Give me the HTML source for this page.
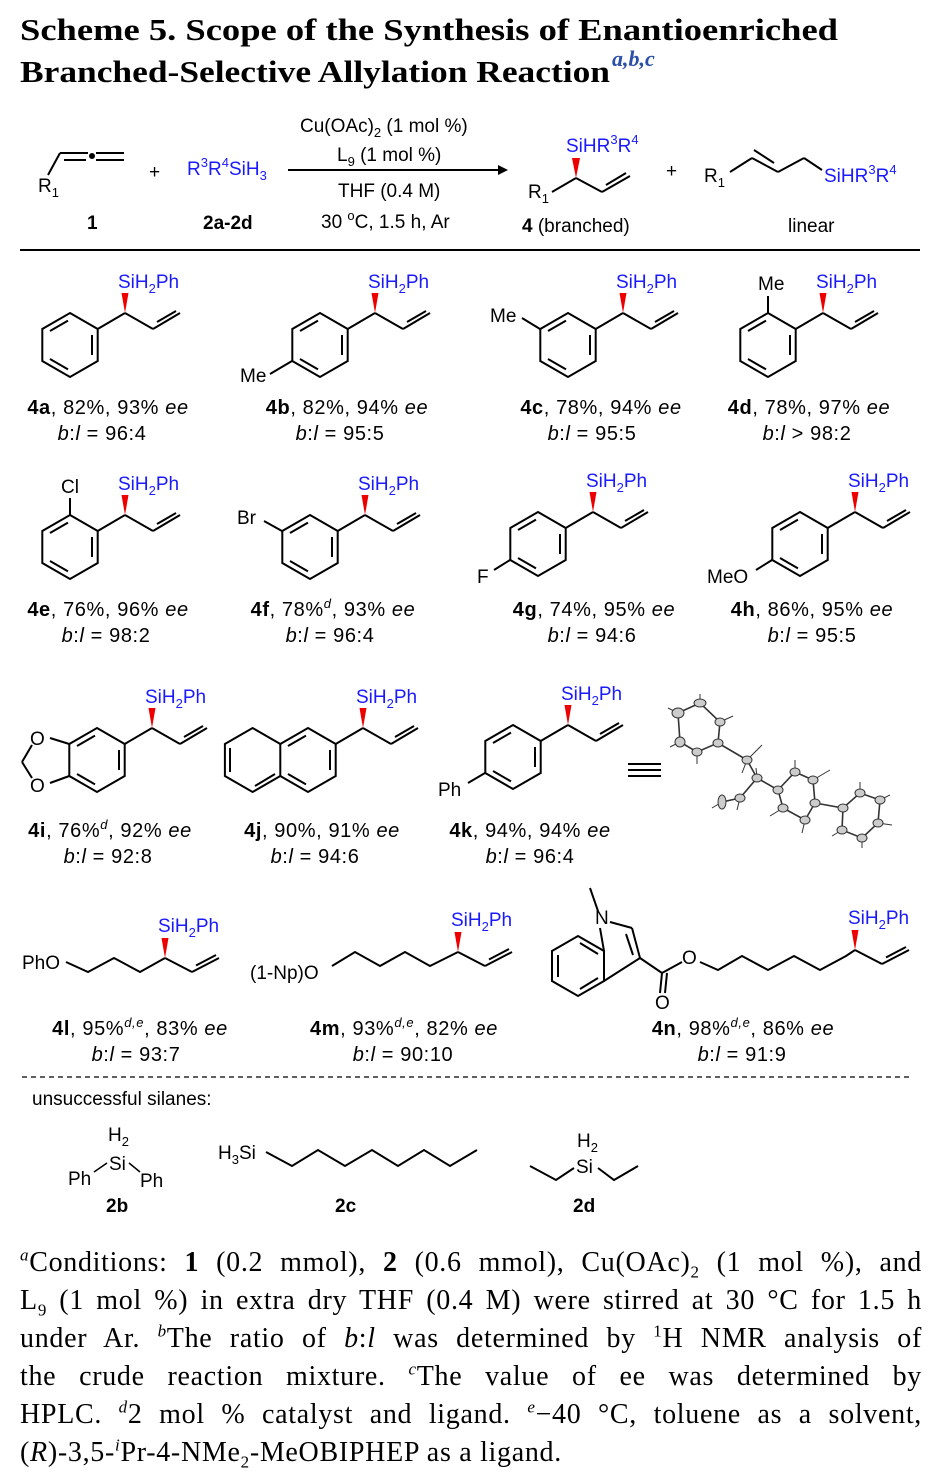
<!DOCTYPE html>
<html><head><meta charset="utf-8"><style>
html,body{margin:0;padding:0;background:#fff;}
body{width:932px;height:1478px;position:relative;overflow:hidden;}
svg{position:absolute;left:0;top:0;}
.t{font-family:"Liberation Sans",Arial,sans-serif;font-size:19px;fill:#000;}
.l{font-family:"Liberation Sans",Arial,sans-serif;font-size:20px;fill:#000;letter-spacing:0.6px;}
.b{fill:#1a1aff;}
.fn{position:absolute;left:20px;width:902px;font-family:"Liberation Serif",serif;font-size:28px;letter-spacing:0.7px;line-height:38px;color:#000;}
.fn div{text-align:justify;text-align-last:justify;height:38px;white-space:nowrap;}
.fn div.last{text-align-last:left;}
sup{font-size:17px;line-height:0;}
sub{font-size:17px;line-height:0;}
</style></head><body>
<svg width="932" height="1478" viewBox="0 0 932 1478">
<defs>
<g id="ring" fill="none" stroke="#000" stroke-width="2">
<polygon points="0,-32 27.7,-16 27.7,16 0,32 -27.7,16 -27.7,-16"/>
<line x1="22" y1="-10" x2="22" y2="10"/>
<line x1="-2" y1="24.4" x2="-20" y2="14"/>
<line x1="-20" y1="-14" x2="-2" y2="-24.4"/>
</g>
<g id="side">
<g fill="none" stroke="#000" stroke-width="2">
<line x1="27.7" y1="-16" x2="55" y2="-32"/>
<line x1="55" y1="-32" x2="83" y2="-16"/>
<line x1="83" y1="-16" x2="110" y2="-32"/>
<line x1="87" y1="-23" x2="106" y2="-34"/>
</g>
<polygon points="55,-32 51.5,-52 58.5,-52" fill="#e00"/>
<text class="t b" x="48" y="-57">SiH<tspan font-size="13" dy="5">2</tspan><tspan dy="-5">Ph</tspan></text>
</g>
<g id="tail">
<g fill="none" stroke="#000" stroke-width="2">
<line x1="0" y1="0" x2="27" y2="14"/>
<line x1="27" y1="14" x2="54" y2="0"/>
<line x1="31" y1="7.5" x2="51" y2="-3"/>
</g>
<polygon points="0,0 -3.5,-20 3.5,-20" fill="#e00"/>
<text class="t b" x="-7" y="-26">SiH<tspan font-size="13" dy="5">2</tspan><tspan dy="-5">Ph</tspan></text>
</g>
</defs>

<!-- Title -->
<text x="20" y="40" font-family="Liberation Serif,serif" font-weight="bold" font-size="31" textLength="818" lengthAdjust="spacingAndGlyphs">Scheme 5. Scope of the Synthesis of Enantioenriched</text>
<text x="20" y="82" font-family="Liberation Serif,serif" font-weight="bold" font-size="31" textLength="590" lengthAdjust="spacingAndGlyphs">Branched-Selective Allylation Reaction</text>
<text x="612" y="66" font-family="Liberation Serif,serif" font-weight="bold" fill="#2a4fa8" font-style="italic" font-size="22">a,b,c</text>

<!-- header reaction -->
<g stroke="#000" stroke-width="2" fill="none">
<line x1="48" y1="175" x2="60" y2="153"/>
<line x1="60" y1="153" x2="88" y2="153"/>
<line x1="64" y1="160" x2="86" y2="160"/>
<line x1="96" y1="153" x2="124" y2="153"/>
<line x1="96" y1="160" x2="124" y2="160"/>
<line x1="288" y1="170" x2="498" y2="170"/>
<line x1="552" y1="192" x2="576" y2="178"/>
<line x1="576" y1="178" x2="602" y2="192"/>
<line x1="602" y1="192" x2="630" y2="176"/>
<line x1="606" y1="185" x2="626" y2="173"/>
<line x1="730" y1="172" x2="752" y2="158"/>
<line x1="752" y1="158" x2="778" y2="172"/>
<line x1="754" y1="150" x2="774" y2="163"/>
<line x1="778" y1="172" x2="804" y2="158"/>
<line x1="804" y1="158" x2="822" y2="170"/>
<line x1="20" y1="250" x2="920" y2="250"/>
</g>
<circle cx="92" cy="156" r="3" fill="#000"/>
<polygon points="498,165 508,170 498,175" fill="#000"/>
<polygon points="576,178 572,158 580,158" fill="#e00"/>
<text class="t" x="38" y="192">R<tspan font-size="13" dy="5">1</tspan></text>
<text class="t" x="149" y="178">+</text>
<text class="t b" x="187" y="175">R<tspan font-size="13" dy="-8">3</tspan><tspan dy="8">R</tspan><tspan font-size="13" dy="-8">4</tspan><tspan dy="8">SiH</tspan><tspan font-size="13" dy="5">3</tspan></text>
<text class="t" x="300" y="132">Cu(OAc)<tspan font-size="13" dy="5">2</tspan><tspan dy="-5"> (1 mol %)</tspan></text>
<text class="t" x="337" y="161">L<tspan font-size="13" dy="5">9</tspan><tspan dy="-5"> (1 mol %)</tspan></text>
<text class="t" x="338" y="197">THF (0.4 M)</text>
<text class="t" x="321" y="228">30 <tspan font-size="13" dy="-8">o</tspan><tspan dy="8">C, 1.5 h, Ar</tspan></text>
<text class="t" x="87" y="229" font-weight="bold">1</text>
<text class="t" x="203" y="229" font-weight="bold">2a-2d</text>
<text class="t b" x="566" y="152">SiHR<tspan font-size="13" dy="-8">3</tspan><tspan dy="8">R</tspan><tspan font-size="13" dy="-8">4</tspan></text>
<text class="t" x="528" y="198">R<tspan font-size="13" dy="5">1</tspan></text>
<text class="t" x="522" y="232"><tspan font-weight="bold">4</tspan> (branched)</text>
<text class="t" x="666" y="177">+</text>
<text class="t" x="704" y="182">R<tspan font-size="13" dy="5">1</tspan></text>
<text class="t b" x="824" y="182">SiHR<tspan font-size="13" dy="-8">3</tspan><tspan dy="8">R</tspan><tspan font-size="13" dy="-8">4</tspan></text>
<text class="t" x="788" y="232">linear</text>

<!-- Row 1 -->
<use href="#ring" x="70" y="345"/><use href="#side" x="70" y="345"/>
<use href="#ring" x="320" y="345"/><use href="#side" x="320" y="345"/>
<line x1="292" y1="361" x2="270" y2="374" stroke="#000" stroke-width="2"/>
<text class="t" x="240" y="382">Me</text>
<use href="#ring" x="568" y="345"/><use href="#side" x="568" y="345"/>
<line x1="540" y1="329" x2="522" y2="318" stroke="#000" stroke-width="2"/>
<text class="t" x="490" y="322">Me</text>
<use href="#ring" x="768" y="345"/><use href="#side" x="768" y="345"/>
<line x1="768" y1="313" x2="768" y2="296" stroke="#000" stroke-width="2"/>
<text class="t" x="758" y="290">Me</text>

<g class="l" text-anchor="middle">
<text x="108" y="414"><tspan font-weight="bold">4a</tspan>, 82%, 93% <tspan font-style="italic">ee</tspan></text>
<text x="102" y="440"><tspan font-style="italic">b</tspan>:<tspan font-style="italic">l</tspan> = 96:4</text>
<text x="347" y="414"><tspan font-weight="bold">4b</tspan>, 82%, 94% <tspan font-style="italic">ee</tspan></text>
<text x="340" y="440"><tspan font-style="italic">b</tspan>:<tspan font-style="italic">l</tspan> = 95:5</text>
<text x="601" y="414"><tspan font-weight="bold">4c</tspan>, 78%, 94% <tspan font-style="italic">ee</tspan></text>
<text x="592" y="440"><tspan font-style="italic">b</tspan>:<tspan font-style="italic">l</tspan> = 95:5</text>
<text x="809" y="414"><tspan font-weight="bold">4d</tspan>, 78%, 97% <tspan font-style="italic">ee</tspan></text>
<text x="807" y="440"><tspan font-style="italic">b</tspan>:<tspan font-style="italic">l</tspan> &gt; 98:2</text>
</g>

<!-- Row 2 -->
<use href="#ring" x="70" y="547"/><use href="#side" x="70" y="547"/>
<line x1="70" y1="515" x2="70" y2="498" stroke="#000" stroke-width="2"/>
<text class="t" x="61" y="493">Cl</text>
<use href="#ring" x="310" y="547"/><use href="#side" x="310" y="547"/>
<line x1="282" y1="531" x2="264" y2="521" stroke="#000" stroke-width="2"/>
<text class="t" x="237" y="524">Br</text>
<use href="#ring" x="538" y="544"/><use href="#side" x="538" y="544"/>
<line x1="510" y1="560" x2="494" y2="570" stroke="#000" stroke-width="2"/>
<text class="t" x="477" y="583">F</text>
<use href="#ring" x="800" y="544"/><use href="#side" x="800" y="544"/>
<line x1="772" y1="560" x2="756" y2="570" stroke="#000" stroke-width="2"/>
<text class="t" x="707" y="583">MeO</text>

<g class="l" text-anchor="middle">
<text x="108" y="616"><tspan font-weight="bold">4e</tspan>, 76%, 96% <tspan font-style="italic">ee</tspan></text>
<text x="106" y="642"><tspan font-style="italic">b</tspan>:<tspan font-style="italic">l</tspan> = 98:2</text>
<text x="333" y="616"><tspan font-weight="bold">4f</tspan>, 78%<tspan font-style="italic" font-size="13" dy="-8">d</tspan><tspan dy="8">, 93% </tspan><tspan font-style="italic">ee</tspan></text>
<text x="330" y="642"><tspan font-style="italic">b</tspan>:<tspan font-style="italic">l</tspan> = 96:4</text>
<text x="594" y="616"><tspan font-weight="bold">4g</tspan>, 74%, 95% <tspan font-style="italic">ee</tspan></text>
<text x="592" y="642"><tspan font-style="italic">b</tspan>:<tspan font-style="italic">l</tspan> = 94:6</text>
<text x="812" y="616"><tspan font-weight="bold">4h</tspan>, 86%, 95% <tspan font-style="italic">ee</tspan></text>
<text x="812" y="642"><tspan font-style="italic">b</tspan>:<tspan font-style="italic">l</tspan> = 95:5</text>
</g>

<!-- Row 3 -->
<use href="#ring" x="97" y="760"/><use href="#side" x="97" y="760"/>
<g stroke="#000" stroke-width="2" fill="none">
<line x1="69.3" y1="744" x2="50" y2="738"/>
<line x1="69.3" y1="776" x2="50" y2="783"/>
<line x1="32" y1="745" x2="22" y2="762"/>
<line x1="22" y1="762" x2="32" y2="778"/>
</g>
<text class="t" x="30" y="745">O</text>
<text class="t" x="30" y="792">O</text>
<use href="#ring" x="308" y="760"/><use href="#side" x="308" y="760"/>
<g stroke="#000" stroke-width="2" fill="none">
<polyline points="280.3,744 252.6,728 224.9,744 224.9,776 252.6,792 280.3,776"/>
<line x1="230" y1="748" x2="230" y2="772"/>
<line x1="255" y1="786" x2="275" y2="774"/>
</g>
<use href="#ring" x="513" y="757"/><use href="#side" x="513" y="757"/>
<line x1="485" y1="773" x2="468" y2="783" stroke="#000" stroke-width="2"/>
<text class="t" x="438" y="796">Ph</text>
<g stroke="#000" stroke-width="2">
<line x1="628" y1="764" x2="661" y2="764"/>
<line x1="628" y1="770" x2="661" y2="770"/>
<line x1="628" y1="776" x2="661" y2="776"/>
</g>
<!-- crystal structure -->
<g stroke="#333" stroke-width="1.6" fill="none">
<polyline points="700,703 678,713 680,742 697,752 718,743 720,722 700,703"/>
<polyline points="718,743 747,760 757,778 740,798 722,802"/>
<polyline points="757,778 778,790 795,772 813,780 815,803 805,820 783,808 778,790"/>
<polyline points="815,803 843,808 860,793 880,800 878,823 862,838 842,830 843,808"/>
<g stroke-width="1">
<line x1="700" y1="703" x2="700" y2="694"/><line x1="678" y1="713" x2="668" y2="708"/><line x1="680" y1="742" x2="670" y2="747"/>
<line x1="697" y1="752" x2="697" y2="764"/><line x1="720" y1="722" x2="733" y2="716"/><line x1="747" y1="760" x2="762" y2="745"/>
<line x1="747" y1="760" x2="742" y2="773"/><line x1="757" y1="778" x2="756" y2="768"/><line x1="740" y1="798" x2="737" y2="810"/>
<line x1="795" y1="772" x2="795" y2="760"/><line x1="813" y1="780" x2="830" y2="770"/><line x1="783" y1="808" x2="770" y2="816"/>
<line x1="805" y1="820" x2="802" y2="833"/><line x1="860" y1="793" x2="860" y2="782"/><line x1="880" y1="800" x2="890" y2="795"/>
<line x1="878" y1="823" x2="892" y2="825"/><line x1="862" y1="838" x2="862" y2="848"/><line x1="842" y1="830" x2="832" y2="836"/>
<line x1="722" y1="802" x2="712" y2="808"/>
</g>
</g>
<g fill="#ccc" stroke="#333" stroke-width="1">
<ellipse cx="700" cy="703" rx="6" ry="4"/><ellipse cx="678" cy="713" rx="6" ry="5"/><ellipse cx="680" cy="742" rx="5" ry="5"/>
<ellipse cx="697" cy="752" rx="5" ry="4"/><ellipse cx="718" cy="743" rx="5" ry="4"/><ellipse cx="720" cy="722" rx="5" ry="4"/>
<ellipse cx="747" cy="760" rx="5" ry="4"/><ellipse cx="757" cy="778" rx="5" ry="4"/><ellipse cx="740" cy="798" rx="5" ry="4"/>
<ellipse cx="722" cy="802" rx="4" ry="7"/><ellipse cx="778" cy="790" rx="5" ry="4"/><ellipse cx="795" cy="772" rx="5" ry="4"/>
<ellipse cx="813" cy="780" rx="5" ry="4"/><ellipse cx="815" cy="803" rx="5" ry="4"/><ellipse cx="805" cy="820" rx="5" ry="4"/>
<ellipse cx="783" cy="808" rx="5" ry="4"/><ellipse cx="843" cy="808" rx="5" ry="4"/><ellipse cx="860" cy="793" rx="5" ry="4"/>
<ellipse cx="880" cy="800" rx="5" ry="4"/><ellipse cx="878" cy="823" rx="5" ry="4"/><ellipse cx="862" cy="838" rx="5" ry="4"/>
<ellipse cx="842" cy="830" rx="5" ry="4"/>
</g>

<g class="l" text-anchor="middle">
<text x="110" y="837"><tspan font-weight="bold">4i</tspan>, 76%<tspan font-style="italic" font-size="13" dy="-8">d</tspan><tspan dy="8">, 92% </tspan><tspan font-style="italic">ee</tspan></text>
<text x="108" y="863"><tspan font-style="italic">b</tspan>:<tspan font-style="italic">l</tspan> = 92:8</text>
<text x="322" y="837"><tspan font-weight="bold">4j</tspan>, 90%, 91% <tspan font-style="italic">ee</tspan></text>
<text x="315" y="863"><tspan font-style="italic">b</tspan>:<tspan font-style="italic">l</tspan> = 94:6</text>
<text x="530" y="837"><tspan font-weight="bold">4k</tspan>, 94%, 94% <tspan font-style="italic">ee</tspan></text>
<text x="530" y="863"><tspan font-style="italic">b</tspan>:<tspan font-style="italic">l</tspan> = 96:4</text>
</g>

<!-- Row 4 -->
<text class="t" x="22" y="969">PhO</text>
<polyline points="66,962 88,972 114,958 140,972 165,958" fill="none" stroke="#000" stroke-width="2"/>
<use href="#tail" x="165" y="958"/>
<text class="t" x="250" y="979">(1-Np)O</text>
<polyline points="332,966 355,952 380,966 405,952 430,966 458,952" fill="none" stroke="#000" stroke-width="2"/>
<use href="#tail" x="458" y="952"/>
<!-- indole ester -->
<g stroke="#000" stroke-width="2" fill="none">
<polygon points="578,936 604,951 604,981 578,996 552,981 552,951"/>
<line x1="558" y1="955" x2="558" y2="977"/>
<line x1="580" y1="989" x2="598" y2="978"/>
<line x1="580" y1="943" x2="598" y2="954"/>
<line x1="604" y1="951" x2="600" y2="928"/>
<line x1="610" y1="922" x2="632" y2="928"/>
<line x1="632" y1="928" x2="640" y2="958"/>
<line x1="626" y1="934" x2="633" y2="955"/>
<line x1="640" y1="958" x2="604" y2="981"/>
<line x1="598" y1="911" x2="590" y2="888"/>
<line x1="640" y1="958" x2="662" y2="973"/>
<line x1="662" y1="973" x2="660" y2="993"/>
<line x1="667" y1="973" x2="665" y2="993"/>
<line x1="662" y1="973" x2="682" y2="962"/>
<polyline points="700,962 718,970 742,956 768,970 794,956 820,970 846,956 855,950"/>
</g>
<text class="t" x="595" y="924">N</text>
<text class="t" x="655" y="1009">O</text>
<text class="t" x="682" y="964">O</text>
<use href="#tail" x="855" y="950"/>

<g class="l" text-anchor="middle">
<text x="140" y="1035"><tspan font-weight="bold">4l</tspan>, 95%<tspan font-style="italic" font-size="13" dy="-8">d,e</tspan><tspan dy="8">, 83% </tspan><tspan font-style="italic">ee</tspan></text>
<text x="136" y="1061"><tspan font-style="italic">b</tspan>:<tspan font-style="italic">l</tspan> = 93:7</text>
<text x="404" y="1035"><tspan font-weight="bold">4m</tspan>, 93%<tspan font-style="italic" font-size="13" dy="-8">d,e</tspan><tspan dy="8">, 82% </tspan><tspan font-style="italic">ee</tspan></text>
<text x="403" y="1061"><tspan font-style="italic">b</tspan>:<tspan font-style="italic">l</tspan> = 90:10</text>
<text x="743" y="1035"><tspan font-weight="bold">4n</tspan>, 98%<tspan font-style="italic" font-size="13" dy="-8">d,e</tspan><tspan dy="8">, 86% </tspan><tspan font-style="italic">ee</tspan></text>
<text x="742" y="1061"><tspan font-style="italic">b</tspan>:<tspan font-style="italic">l</tspan> = 91:9</text>
</g>

<line x1="22" y1="1077" x2="912" y2="1077" stroke="#000" stroke-width="1.2" stroke-dasharray="5,4"/>
<text class="t" x="32" y="1105">unsuccessful silanes:</text>

<!-- 2b -->
<text class="t" x="108" y="1141">H<tspan font-size="13" dy="5">2</tspan></text>
<text class="t" x="109" y="1170">Si</text>
<text class="t" x="68" y="1185">Ph</text>
<text class="t" x="140" y="1187">Ph</text>
<line x1="94" y1="1172" x2="107" y2="1163" stroke="#000" stroke-width="1.5"/>
<line x1="129" y1="1163" x2="140" y2="1172" stroke="#000" stroke-width="1.5"/>
<text class="t" x="106" y="1212" font-weight="bold">2b</text>
<!-- 2c -->
<text class="t" x="218" y="1159">H<tspan font-size="13" dy="5">3</tspan><tspan dy="-5">Si</tspan></text>
<polyline points="266,1152 292,1166 318,1150 345,1166 372,1150 398,1166 424,1150 450,1166 477,1150" fill="none" stroke="#000" stroke-width="2"/>
<text class="t" x="335" y="1212" font-weight="bold">2c</text>
<!-- 2d -->
<text class="t" x="577" y="1147">H<tspan font-size="13" dy="5">2</tspan></text>
<text class="t" x="576" y="1173">Si</text>
<polyline points="530,1166 556,1180 574,1168" fill="none" stroke="#000" stroke-width="2"/>
<polyline points="598,1168 614,1180 638,1166" fill="none" stroke="#000" stroke-width="2"/>
<text class="t" x="573" y="1212" font-weight="bold">2d</text>
</svg>

<div class="fn" style="top:1244px;">
<div><sup><i>a</i></sup>Conditions: <b>1</b> (0.2 mmol), <b>2</b> (0.6 mmol), Cu(OAc)<sub>2</sub> (1 mol %), and</div>
<div>L<sub>9</sub> (1 mol %) in extra dry THF (0.4 M) were stirred at 30 °C for 1.5 h</div>
<div>under Ar. <sup><i>b</i></sup>The ratio of <i>b</i>:<i>l</i> was determined by <sup>1</sup>H NMR analysis of</div>
<div>the crude reaction mixture. <sup><i>c</i></sup>The value of ee was determined by</div>
<div>HPLC. <sup><i>d</i></sup>2 mol % catalyst and ligand. <sup><i>e</i></sup>−40 °C, toluene as a solvent,</div>
<div class="last">(<i>R</i>)-3,5-<sup><i>i</i></sup>Pr-4-NMe<sub>2</sub>-MeOBIPHEP as a ligand.</div>
</div>
</body></html>
